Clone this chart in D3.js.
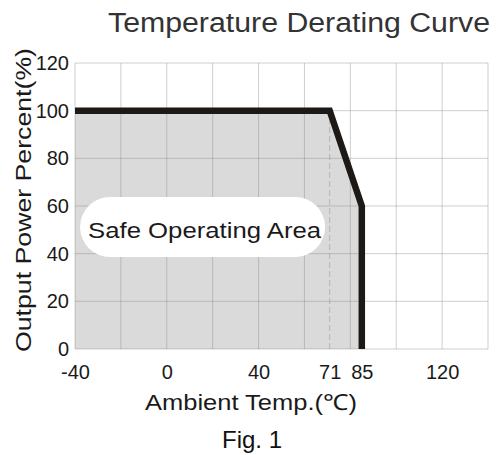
<!DOCTYPE html>
<html>
<head>
<meta charset="utf-8">
<script src="https://cdn.jsdelivr.net/npm/d3@7"></script>
<style>
  body { margin: 0; background: #fff; }
  text { font-family: "Liberation Sans", Arial, sans-serif; }
</style>
</head>
<body>
<div id="graph"></div>
<script>
// derating curve: ambient temp (C) -> output power (%)
var temps = [-40, 71, 85, 85]
var power = [100, 100, 60, 0]

var xTicks = [-40, 0, 40, 71, 85, 120]
var yTicks = [0, 20, 40, 60, 80, 100, 120]
var xGrid = d3.range(-40, 141, 20)
var dashedAt = [71]

var W = 496, H = 455
var margin = {top: 63, left: 75, right: 8, bottom: 106}

var svg = d3.select('#graph').append('svg')
  .attr('width', W).attr('height', H)

var x = d3.scaleLinear().domain([-40, 140]).range([margin.left, W - margin.right])
var y = d3.scaleLinear().domain([0, 120]).range([H - margin.bottom, margin.top])

var pts = temps.map((t, i) => ({t, p: power[i]}))

// shaded area under the curve
var area = d3.area()
  .x(d => x(d.t))
  .y0(y(0))
  .y1(d => y(d.p))

svg.append('path')
  .datum(pts)
  .attr('d', area)
  .attr('fill', '#dadada')

// grid
var gridColor = '#888', gridOpacity = 0.4
svg.append('g')
  .selectAll('line.v').data(xGrid).join('line')
  .attr('x1', d => x(d)).attr('x2', d => x(d))
  .attr('y1', y(0)).attr('y2', y(120))
  .attr('stroke', gridColor).attr('stroke-opacity', gridOpacity)

svg.append('g')
  .selectAll('line.h').data(yTicks).join('line')
  .attr('y1', d => y(d)).attr('y2', d => y(d))
  .attr('x1', x(-40)).attr('x2', x(140))
  .attr('stroke', gridColor).attr('stroke-opacity', gridOpacity)

svg.append('g')
  .selectAll('line').data(dashedAt).join('line')
  .attr('x1', d => x(d)).attr('x2', d => x(d))
  .attr('y1', y(0)).attr('y2', y(100))
  .attr('stroke', '#999').attr('stroke-opacity', 0.6)
  .attr('stroke-dasharray', '6,3')

// label box
var box = {t0: -37.8, t1: 69, p0: 38.6, p1: 63.8}
svg.append('rect')
  .attr('x', x(box.t0)).attr('y', y(box.p1))
  .attr('width', x(box.t1) - x(box.t0))
  .attr('height', y(box.p0) - y(box.p1))
  .attr('rx', 30).attr('ry', 30)
  .attr('fill', '#fff')

svg.append('text')
  .attr('x', (x(box.t0) + x(box.t1)) / 2 + 2)
  .attr('y', y(box.p0) - 19)
  .attr('text-anchor', 'middle')
  .attr('font-size', 22)
  .attr('fill', '#1a1a1a')
  .attr('textLength', 233).attr('lengthAdjust', 'spacingAndGlyphs')
  .text('Safe Operating Area')

// the curve
var line = d3.line().x(d => x(d.t)).y(d => y(d.p))
svg.append('path')
  .datum(pts)
  .attr('d', line)
  .attr('fill', 'none')
  .attr('stroke', '#1c1917')
  .attr('stroke-width', 6.5)
  .attr('stroke-linejoin', 'miter')

// axes
var xAxis = svg.append('g')
  .attr('transform', `translate(0,${y(0) + 13})`)
  .call(d3.axisBottom(x).tickValues(xTicks).tickSize(0).tickFormat(d => String(d)))
xAxis.select('.domain').remove()
xAxis.selectAll('text')
  .attr('font-size', 20).attr('fill', '#1a1a1a')
  .style('font-family', '"Liberation Sans", Arial, sans-serif')

var yAxis = svg.append('g')
  .attr('transform', `translate(${x(-40) - 3},0)`)
  .call(d3.axisLeft(y).tickValues(yTicks).tickSize(0))
yAxis.select('.domain').remove()
yAxis.selectAll('text')
  .attr('font-size', 20).attr('fill', '#1a1a1a')
  .style('font-family', '"Liberation Sans", Arial, sans-serif')

// titles
svg.append('text')
  .attr('x', 108).attr('y', 32)
  .attr('font-size', 27).attr('fill', '#333')
  .attr('textLength', 382).attr('lengthAdjust', 'spacingAndGlyphs')
  .text('Temperature Derating Curve')

svg.append('text')
  .attr('x', 251).attr('y', 410)
  .attr('text-anchor', 'middle')
  .attr('font-size', 22).attr('fill', '#1a1a1a')
  .attr('textLength', 212).attr('lengthAdjust', 'spacingAndGlyphs')
  .text('Ambient Temp.(℃)')

svg.append('text')
  .attr('transform', 'translate(31,200) rotate(-90)')
  .attr('text-anchor', 'middle')
  .attr('font-size', 22).attr('fill', '#1a1a1a')
  .attr('textLength', 304).attr('lengthAdjust', 'spacingAndGlyphs')
  .text('Output Power Percent(%)')

svg.append('text')
  .attr('x', 252).attr('y', 448)
  .attr('text-anchor', 'middle')
  .attr('font-size', 24).attr('fill', '#111')
  .text('Fig. 1')
</script>
</body>
</html>
